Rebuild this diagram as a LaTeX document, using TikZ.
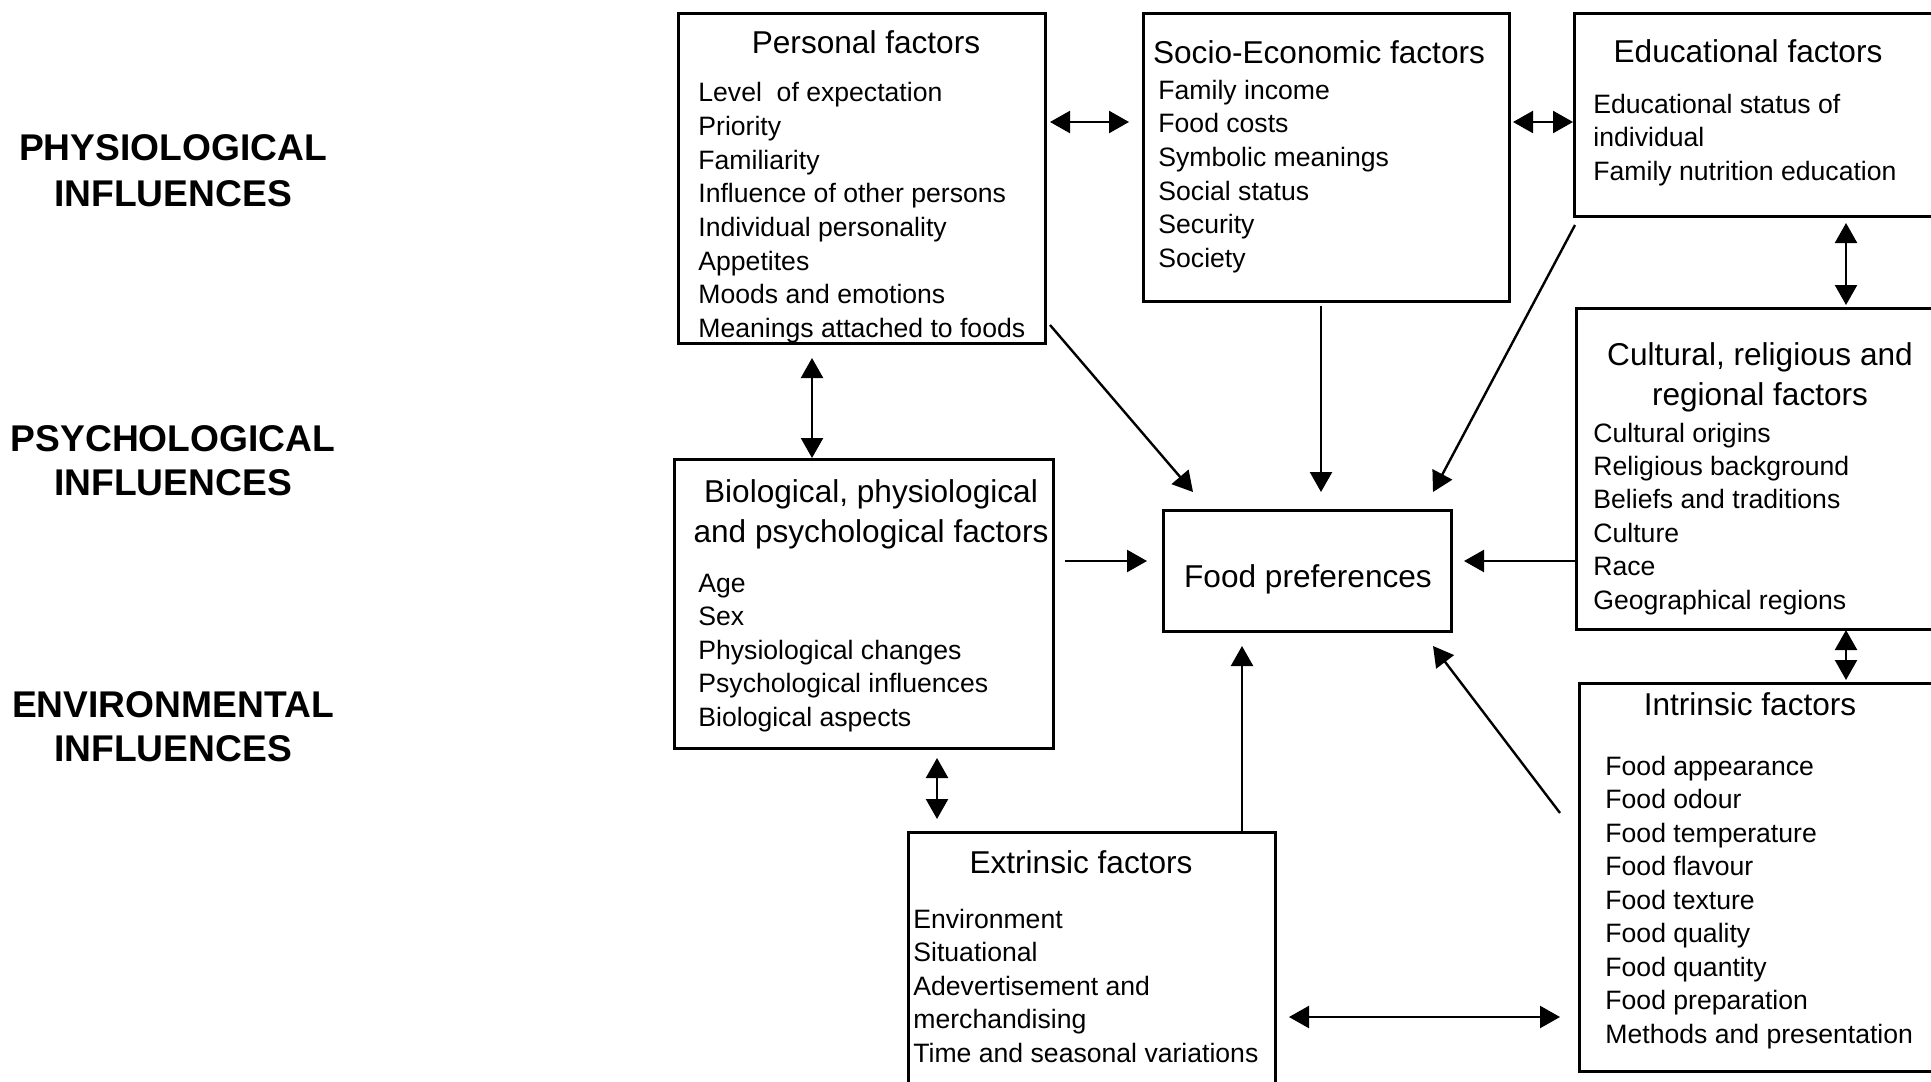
\documentclass[tikz,border=0pt]{standalone}
\usepackage{fontspec}
\setmainfont{Liberation Sans}
\usetikzlibrary{arrows.meta}
\begin{document}
\begin{tikzpicture}[x=0.5pt,y=-0.5pt,
  box/.style={draw, line width=1.4pt, inner sep=0pt, anchor=north west},
  ttl/.style={font=\fontsize{15.8}{20}\selectfont, anchor=base, inner sep=0pt},
  itm/.style={font=\fontsize{13.3}{16.8}\selectfont, anchor=base west, inner sep=0pt},
  lbl/.style={font=\fontsize{18.6}{22}\selectfont\bfseries, anchor=base, inner sep=0pt},
  tip/.tip={Triangle[length=10pt,width=11pt]},
  arr/.style={line width=1.2pt, -tip},
  darr/.style={line width=1.2pt, tip-tip}]
\useasboundingbox (0,0) rectangle (1931,1081);
\fill[white] (0,0) rectangle (1931,1081);
\clip (0,0) rectangle (1931,1081);

% left labels
\node[lbl] (l1a) at (173,161) {PHYSIOLOGICAL};
\node[lbl] (l1b) at (173,206) {INFLUENCES};
\node[lbl] (l2a) at (173,451) {PSYCHOLOGICAL};
\node[lbl] (l2b) at (173,495) {INFLUENCES};
\node[lbl] (l3a) at (173,717) {ENVIRONMENTAL};
\node[lbl] (l3b) at (173,761) {INFLUENCES};

% boxes
\node[box, minimum width=183.5pt, minimum height=165pt] (pers) at (677,12) {};
\node[box, minimum width=183pt, minimum height=144pt] (socio) at (1142,12) {};
\node[box, minimum width=193.5pt, minimum height=101.5pt] (edu) at (1573,12) {};
\node[box, minimum width=192.5pt, minimum height=160.5pt] (cult) at (1575,307) {};
\node[box, minimum width=191pt, minimum height=194pt] (intr) at (1578,682) {};
\node[box, minimum width=183.5pt, minimum height=134.5pt] (extr) at (907,831) {};
\node[box, minimum width=189.5pt, minimum height=144.5pt] (bio) at (673,458) {};
\node[box, minimum width=144pt, minimum height=60.5pt] (food) at (1162,509) {};

% Personal
\node[ttl] (persT) at (866,54) {Personal factors};
\foreach \t [count=\i from 0] in {Level\ \ of expectation, Priority, Familiarity, Influence of other persons, Individual personality, Appetites, Moods and emotions, Meanings attached to foods}
  \node[itm] (pers-\i) at (698,102+\i*33.6) {\t};

% Socio-Economic
\node[ttl] (socioT) at (1319,64) {Socio-Economic factors};
\foreach \t [count=\i from 0] in {Family income, Food costs, Symbolic meanings, Social status, Security, Society}
  \node[itm] (socio-\i) at (1158,99+\i*33.7) {\t};

% Educational
\node[ttl] (eduT) at (1748,63) {Educational factors};
\foreach \t [count=\i from 0] in {Educational status of, individual, Family nutrition education}
  \node[itm] (edu-\i) at (1593,113+\i*33.6) {\t};

% Cultural
\node[ttl] (cultT1) at (1760,365) {Cultural, religious and};
\node[ttl] (cultT2) at (1760,405) {regional factors};
\foreach \t [count=\i from 0] in {Cultural origins, Religious background, Beliefs and traditions, Culture, Race, Geographical regions}
  \node[itm] (cult-\i) at (1593,442+\i*33.4) {\t};

% Intrinsic
\node[ttl] (intrT) at (1750,715) {Intrinsic factors};
\foreach \t [count=\i from 0] in {Food appearance, Food odour, Food temperature, Food flavour, Food texture, Food quality, Food quantity, Food preparation, Methods and presentation}
  \node[itm] (intr-\i) at (1605,775+\i*33.5) {\t};

% Extrinsic
\node[ttl] (extrT) at (1081,873) {Extrinsic factors};
\foreach \t [count=\i from 0] in {Environment, Situational, Adevertisement and, merchandising, Time and seasonal variations}
  \node[itm] (extr-\i) at (913,928+\i*33.5) {\t};

% Biological
\node[ttl] (bioT1) at (871,502) {Biological, physiological};
\node[ttl] (bioT2) at (871,542) {and psychological factors};
\foreach \t [count=\i from 0] in {Age, Sex, Physiological changes, Psychological influences, Biological aspects}
  \node[itm] (bio-\i) at (698,592+\i*33.5) {\t};

% Food preferences
\node[ttl] (foodT) at (1308,587) {Food preferences};

% connector end points
\coordinate (a1s) at (1050,122);  \coordinate (a1e) at (1129,122);
\coordinate (a2s) at (1513,122);  \coordinate (a2e) at (1573,122);
\coordinate (a3s) at (1846,223);  \coordinate (a3e) at (1846,305);
\coordinate (a4s) at (1846,630);  \coordinate (a4e) at (1846,680);
\coordinate (a5s) at (812,358);   \coordinate (a5e) at (812,458);
\coordinate (a6s) at (937,758);   \coordinate (a6e) at (937,819);
\coordinate (a7s) at (1289,1017); \coordinate (a7e) at (1560,1017);
\coordinate (b1s) at (1050,325);  \coordinate (b1e) at (1193,492);
\coordinate (b2s) at (1321,306);  \coordinate (b2e) at (1321,492);
\coordinate (b3s) at (1575,225);  \coordinate (b3e) at (1433,492);
\coordinate (b4s) at (1065,561);  \coordinate (b4e) at (1147,561);
\coordinate (b5s) at (1575,561);  \coordinate (b5e) at (1464,561);
\coordinate (b6s) at (1242,831);  \coordinate (b6e) at (1242,646);
\coordinate (b7s) at (1560,813);  \coordinate (b7e) at (1433,646);

% two-way connectors
\draw[darr] (a1s) -- (a1e);
\draw[darr] (a2s) -- (a2e);
\draw[darr] (a3s) -- (a3e);
\draw[darr] (a4s) -- (a4e);
\draw[darr] (a5s) -- (a5e);
\draw[darr] (a6s) -- (a6e);
\draw[darr] (a7s) -- (a7e);

% arrows into food preferences
\draw[arr] (b1s) -- (b1e);
\draw[arr] (b2s) -- (b2e);
\draw[arr] (b3s) -- (b3e);
\draw[arr] (b4s) -- (b4e);
\draw[arr] (b5s) -- (b5e);
\draw[arr] (b6s) -- (b6e);
\draw[arr] (b7s) -- (b7e);
\end{tikzpicture}
\end{document}
